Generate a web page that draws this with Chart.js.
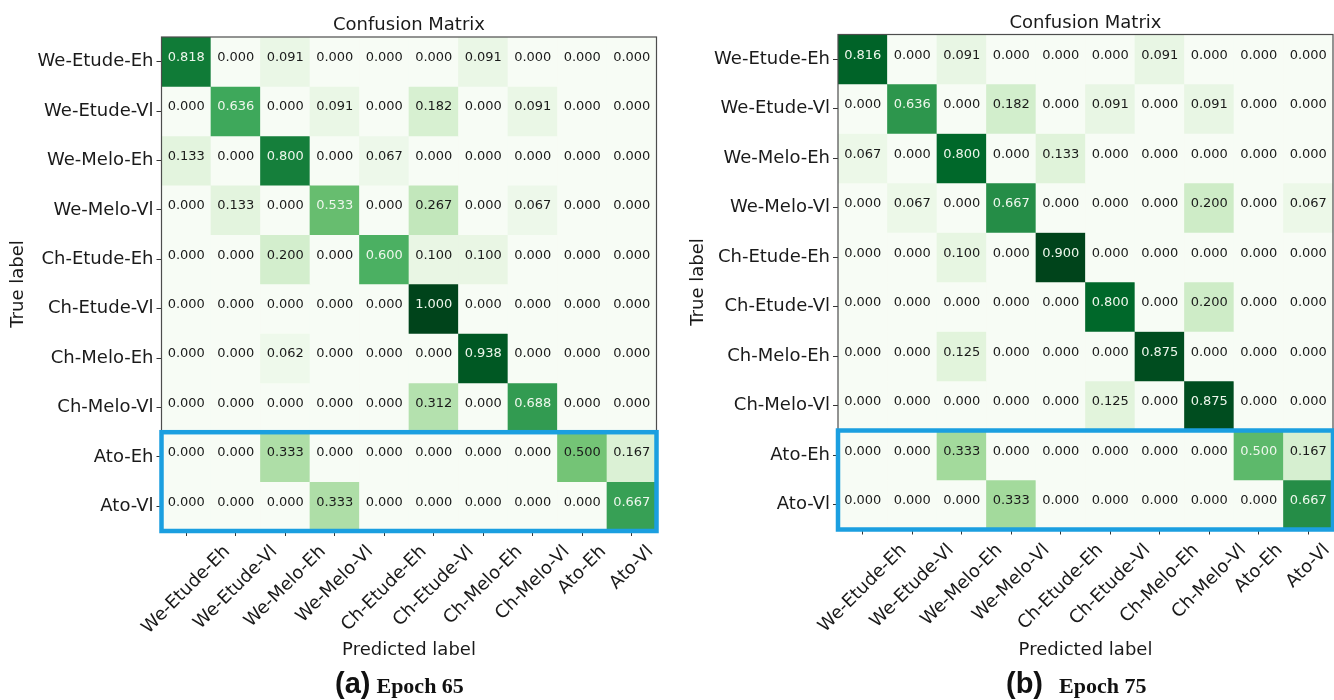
<!DOCTYPE html>
<html>
<head>
<meta charset="utf-8">
<title>Confusion Matrix - Epoch 65 / Epoch 75</title>
<script src="https://cdn.jsdelivr.net/npm/chart.js@4.4.1/dist/chart.umd.min.js"></script>
<style>
  body { margin: 0; background: #fff; }
  #page { position: relative; width: 1334px; height: 700px; overflow: hidden; }
  .panel { position: absolute; top: 0; }
  .cap { position: absolute; top: 668px; white-space: nowrap; line-height: 30px; color: #111; }
  .cap .tag { font-family: 'Liberation Sans', Arial, sans-serif; font-weight: bold; font-size: 29px; }
  .cap .ep { font-family: 'Liberation Serif', 'Times New Roman', serif; font-weight: bold; font-size: 22px; }
</style>
</head>
<body>
<div id="page">
  <canvas id="cmA" class="panel" width="667" height="700" style="left:0"></canvas>
  <canvas id="cmB" class="panel" width="667" height="700" style="left:667px"></canvas>
  <div class="cap" style="left:335px"><span class="tag">(a)</span><span class="ep" style="margin-left:6px">Epoch 65</span></div>
  <div class="cap" style="left:1006px"><span class="tag">(b)</span><span class="ep" style="margin-left:16px">Epoch 75</span></div>
</div>
<script>
// class names (same order for true and predicted label)
const classLabels = ['We-Etude-Eh', 'We-Etude-Vl', 'We-Melo-Eh', 'We-Melo-Vl', 'Ch-Etude-Eh',
                     'Ch-Etude-Vl', 'Ch-Melo-Eh', 'Ch-Melo-Vl', 'Ato-Eh', 'Ato-Vl'];

// normalized confusion matrix, rows = true label, cols = predicted label
const cmEpoch65 = [
  [0.818, 0.000, 0.091, 0.000, 0.000, 0.000, 0.091, 0.000, 0.000, 0.000],
  [0.000, 0.636, 0.000, 0.091, 0.000, 0.182, 0.000, 0.091, 0.000, 0.000],
  [0.133, 0.000, 0.800, 0.000, 0.067, 0.000, 0.000, 0.000, 0.000, 0.000],
  [0.000, 0.133, 0.000, 0.533, 0.000, 0.267, 0.000, 0.067, 0.000, 0.000],
  [0.000, 0.000, 0.200, 0.000, 0.600, 0.100, 0.100, 0.000, 0.000, 0.000],
  [0.000, 0.000, 0.000, 0.000, 0.000, 1.000, 0.000, 0.000, 0.000, 0.000],
  [0.000, 0.000, 0.062, 0.000, 0.000, 0.000, 0.938, 0.000, 0.000, 0.000],
  [0.000, 0.000, 0.000, 0.000, 0.000, 0.312, 0.000, 0.688, 0.000, 0.000],
  [0.000, 0.000, 0.333, 0.000, 0.000, 0.000, 0.000, 0.000, 0.500, 0.167],
  [0.000, 0.000, 0.000, 0.333, 0.000, 0.000, 0.000, 0.000, 0.000, 0.667]
];

const cmEpoch75 = [
  [0.816, 0.000, 0.091, 0.000, 0.000, 0.000, 0.091, 0.000, 0.000, 0.000],
  [0.000, 0.636, 0.000, 0.182, 0.000, 0.091, 0.000, 0.091, 0.000, 0.000],
  [0.067, 0.000, 0.800, 0.000, 0.133, 0.000, 0.000, 0.000, 0.000, 0.000],
  [0.000, 0.067, 0.000, 0.667, 0.000, 0.000, 0.000, 0.200, 0.000, 0.067],
  [0.000, 0.000, 0.100, 0.000, 0.900, 0.000, 0.000, 0.000, 0.000, 0.000],
  [0.000, 0.000, 0.000, 0.000, 0.000, 0.800, 0.000, 0.200, 0.000, 0.000],
  [0.000, 0.000, 0.125, 0.000, 0.000, 0.000, 0.875, 0.000, 0.000, 0.000],
  [0.000, 0.000, 0.000, 0.000, 0.000, 0.125, 0.000, 0.875, 0.000, 0.000],
  [0.000, 0.000, 0.333, 0.000, 0.000, 0.000, 0.000, 0.000, 0.500, 0.167],
  [0.000, 0.000, 0.000, 0.333, 0.000, 0.000, 0.000, 0.000, 0.000, 0.667]
];

// rows highlighted with the blue frame
const boxedRows = ['Ato-Eh', 'Ato-Vl'];

const FONT = '"DejaVu Sans"';
const TEXT = '#1a1a1a';
// matplotlib "Greens"
const GREENS = ['#f7fcf5', '#e5f5e0', '#c7e9c0', '#a1d99b', '#74c476', '#41ab5d', '#238b45', '#006d2c', '#00441b'];

function hexRgb(h) {
  return [1, 3, 5].map(i => parseInt(h.substr(i, 2), 16));
}

function greens(t) {
  t = Math.max(0, Math.min(1, t));
  const s = t * (GREENS.length - 1);
  const i = Math.min(Math.floor(s), GREENS.length - 2);
  const f = s - i;
  const a = hexRgb(GREENS[i]), b = hexRgb(GREENS[i + 1]);
  const c = a.map((v, k) => Math.round(v + (b[k] - v) * f));
  return 'rgb(' + c.join(',') + ')';
}

// numbers inside the cells
const cellText = {
  id: 'cellText',
  afterDatasetsDraw(chart, args, opts) {
    const ctx = chart.ctx;
    ctx.save();
    ctx.font = '13px ' + FONT;
    ctx.textAlign = 'center';
    ctx.textBaseline = 'middle';
    chart.data.datasets.forEach((ds, r) => {
      chart.getDatasetMeta(r).data.forEach((bar, c) => {
        const v = ds.values[c];
        ctx.fillStyle = v > opts.vmax / 2 ? '#eef7ec' : TEXT;
        ctx.fillText(v.toFixed(3), bar.x, (bar.y + bar.base) / 2 - 4);
      });
    });
    ctx.restore();
  }
};

// frame, title, rotated x labels and the blue box
const matrixFrame = {
  id: 'matrixFrame',
  afterDraw(chart, args, opts) {
    const { ctx, chartArea: a, scales: { x, y } } = chart;
    ctx.save();
    ctx.strokeStyle = '#4d4d4d';
    ctx.lineWidth = 1.2;
    ctx.strokeRect(a.left, a.top, a.right - a.left, a.bottom - a.top);

    ctx.fillStyle = TEXT;
    ctx.font = '18px ' + FONT;
    ctx.textAlign = 'center';
    ctx.textBaseline = 'alphabetic';
    ctx.fillText('Confusion Matrix', (a.left + a.right) / 2, a.top - 7);

    // labels rotated 45deg, centred under each tick (like matplotlib)
    ctx.textBaseline = 'middle';
    const top = a.bottom + 10.5;
    classLabels.forEach((lab, i) => {
      const px = x.getPixelForTick(i);
      const w = ctx.measureText(lab).width;
      const half = (w + 21) * Math.SQRT1_2 / 2;
      ctx.save();
      ctx.translate(px, top + half);
      ctx.rotate(-Math.PI / 4);
      ctx.fillText(lab, 0, 0);
      ctx.restore();
    });

    const rows = boxedRows.map(l => classLabels.indexOf(l));
    const y0 = y.getPixelForValue(Math.min(...rows) - 0.5);
    const y1 = y.getPixelForValue(Math.max(...rows) + 0.5);
    ctx.strokeStyle = '#1b9fe0';
    ctx.lineWidth = 4.5;
    ctx.strokeRect(a.left, y0, a.right - a.left, y1 - y0);
    ctx.restore();
  }
};

function drawMatrix(id, matrix, lay) {
  const vmax = Math.max(...matrix.flat());
  new Chart(document.getElementById(id), {
    type: 'bar',
    data: {
      labels: classLabels,
      datasets: matrix.map((row, r) => ({
        label: classLabels[r],
        values: row,
        data: row.map(() => [r - 0.5, r + 0.5]),
        backgroundColor: row.map(v => greens(v / vmax)),
        borderWidth: 0,
        grouped: false,
        barPercentage: 1,
        categoryPercentage: 1
      }))
    },
    options: {
      responsive: false,
      animation: false,
      devicePixelRatio: 1,
      layout: { padding: { top: lay.top, right: lay.right, bottom: 0, left: 0 } },
      plugins: {
        legend: { display: false },
        tooltip: { enabled: false },
        cellText: { vmax: vmax },
        matrixFrame: {}
      },
      scales: {
        x: {
          type: 'category',
          offset: true,
          border: { display: false },
          grid: { drawOnChartArea: false, offset: false, tickLength: 5, tickColor: '#333', tickWidth: 1 },
          ticks: { display: false },
          title: {
            display: true, text: 'Predicted label', color: TEXT,
            font: { family: 'DejaVu Sans', size: 18 },
            padding: { top: 0, bottom: 39 }
          },
          afterFit(s) { s.height = lay.xHeight; }
        },
        y: {
          type: 'linear',
          min: -0.5,
          max: 9.5,
          reverse: true,
          border: { display: false },
          grid: { drawOnChartArea: false, tickLength: 5, tickColor: '#333', tickWidth: 1 },
          afterBuildTicks(s) { s.ticks = classLabels.map((_, i) => ({ value: i })); },
          ticks: {
            autoSkip: false, padding: 3, color: TEXT,
            font: { family: 'DejaVu Sans', size: 18 },
            callback: v => classLabels[v]
          },
          title: {
            display: true, text: 'True label', color: TEXT,
            font: { family: 'DejaVu Sans', size: 18 },
            padding: { top: lay.yTitle, bottom: 0 }
          },
          afterFit(s) { s.width = lay.yWidth; }
        }
      }
    },
    plugins: [cellText, matrixFrame]
  });
}

drawMatrix('cmA', cmEpoch65, { top: 37, right: 10.5, xHeight: 169, yWidth: 161.5, yTitle: 8 });
drawMatrix('cmB', cmEpoch75, { top: 34.5, right: 1, xHeight: 170.5, yWidth: 171, yTitle: 21 });
</script>
</body>
</html>
